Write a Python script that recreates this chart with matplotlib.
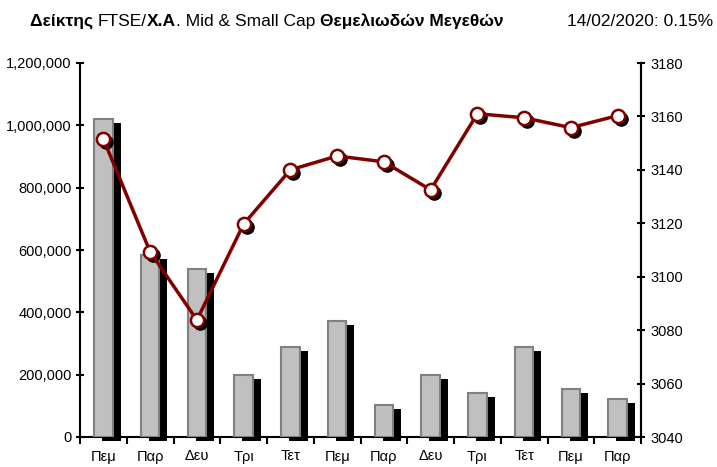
import matplotlib
matplotlib.use("Agg")
import matplotlib.pyplot as plt
import matplotlib.transforms as mtransforms
from matplotlib.ticker import FuncFormatter
import numpy as np

days = ["Πεμ", "Παρ", "Δευ", "Τρι", "Τετ", "Πεμ", "Παρ", "Δευ", "Τρι", "Τετ", "Πεμ", "Παρ"]
volume = [1020000, 584000, 539000, 199000, 290000, 373000, 103000, 199000, 142000, 290000, 155000, 123000]
index_vals = [3151.6, 3109.3, 3083.8, 3119.7, 3140.0, 3145.2, 3143.0, 3132.5, 3161.0, 3159.5, 3155.8, 3160.3]

plt.rcParams['font.family'] = ['Liberation Sans', 'DejaVu Sans']

fig = plt.figure(figsize=(7.17, 4.67), dpi=100)
ax = fig.add_axes([80/717, 30/467, 561/717, 374/467])
x = np.arange(len(days))

shadow_bar = mtransforms.offset_copy(ax.transData, fig=fig, x=8, y=-4, units='dots')
ax.bar(x, volume, width=0.4, color='black', transform=shadow_bar, zorder=2, clip_on=False)
ax.bar(x, volume, width=0.4, color='#C0C0C0', edgecolor='#808080', linewidth=1.5, zorder=3)

ax.set_xlim(-0.5, len(days) - 0.5)
ax.set_ylim(0, 1200000)
ax.set_yticks(np.arange(0, 1200001, 200000))
ax.yaxis.set_major_formatter(FuncFormatter(lambda v, p: f"{int(v):,}"))
ax.set_xticks(x)
ax.set_xticklabels(days, fontsize=10.5)
ax.set_xticks(np.arange(-0.5, len(days), 1), minor=True)
ax.tick_params(axis='x', which='major', length=0, pad=9)
ax.tick_params(axis='x', which='minor', length=5, width=1.5, direction='out')
ax.tick_params(axis='y', labelsize=10.5, length=6, width=1.5, direction='inout', pad=3)
ax.spines['top'].set_visible(False)
for s in ['left', 'bottom', 'right']:
    ax.spines[s].set_linewidth(1.5)

ax2 = ax.twinx()
ax2.set_ylim(3040, 3180)
ax2.set_yticks(np.arange(3040, 3181, 20))
ax2.tick_params(axis='y', labelsize=10.5, length=6, width=1.5, direction='inout', pad=4)
ax2.spines['top'].set_visible(False)
ax2.spines['right'].set_linewidth(1.5)
ax2.spines['left'].set_visible(False)
ax2.spines['bottom'].set_visible(False)

shadow_pt = mtransforms.offset_copy(ax2.transData, fig=fig, x=3, y=-3, units='dots')
ax2.plot(x, index_vals, linestyle='none', marker='o', markersize=9.5, color='black',
         transform=shadow_pt, zorder=3, clip_on=False)
ax2.plot(x, index_vals, color='#800000', linewidth=2.5, marker='o', markersize=9.5,
         markerfacecolor='white', markeredgecolor='#800000', markeredgewidth=1.8,
         zorder=4, clip_on=False)

# Title
fs = 12.5
fam = ['Liberation Sans Narrow', 'Liberation Sans', 'DejaVu Sans']
parts = [("Δείκτης ", 'bold'), ("FTSE/", 'normal'), ("Χ.Α", 'bold'), (". Mid & Small Cap ", 'normal'),
         ("Θεμελιωδών Μεγεθών", 'bold')]
fig.canvas.draw()
renderer = fig.canvas.get_renderer()
xpos = 30
ypix = 467 - 26
for txt, w in parts:
    t = fig.text(xpos / 717, ypix / 467, txt, fontsize=fs, fontweight=w, family=fam, va='baseline')
    bb = t.get_window_extent(renderer=renderer)
    xpos = bb.x1
fig.text(713 / 717, ypix / 467, "14/02/2020: 0.15%", fontsize=fs, ha='right', va='baseline', family=fam)

fig.savefig("out.png", dpi=100)
